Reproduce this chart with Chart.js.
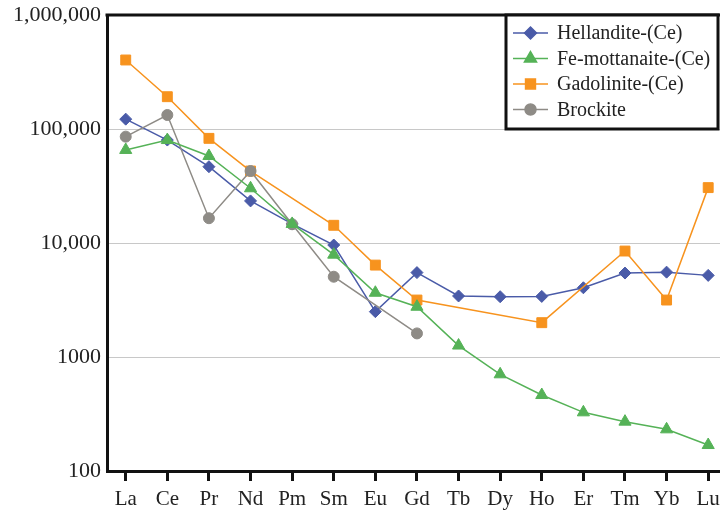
<!DOCTYPE html>
<html>
<head>
<meta charset="utf-8">
<script src="https://cdn.jsdelivr.net/npm/chart.js@4/dist/chart.umd.min.js"></script>
<style>
    html, body { margin: 0; padding: 0; background: #fff; overflow: hidden; }
    #wrap { width: 740px; height: 510px; }
</style>
</head>
<body>
<div id="wrap"><canvas id="reeChart"></canvas></div>
<script>
// REE patterns (chondrite-normalized)
const elements = ["La", "Ce", "Pr", "Nd", "Pm", "Sm", "Eu", "Gd", "Tb", "Dy", "Ho", "Er", "Tm", "Yb", "Lu"];

const hellandite = [122000, 80000, 46700, 23400, 14700, 9600, 2500, 5500, 3430, 3380, 3400, 4050, 5450, 5550, 5200];
const feMottanaite = [65500, 80000, 58000, 30200, 14700, 7900, 3660, 2760, 1260, 705, 464, 327, 271, 232, 169];
const gadolinite = [403000, 192000, 82800, 42800, null, 14300, 6400, 3160, null, null, 2000, null, 8500, 3160, 30600];
const brockite = [85700, 132700, 16500, 42800, 14600, 5060, null, 1610, null, null, null, null, null, null, null];

const seriesNames = ["Hellandite-(Ce)", "Fe-mottanaite-(Ce)", "Gadolinite-(Ce)", "Brockite"];
const yTickValues = [100, 1000, 10000, 100000, 1000000];
const yTickLabels = ["100", "1000", "10,000", "100,000", "1,000,000"];

const serif = "'Liberation Serif', 'Times New Roman', serif";

function toPoints(arr) {
    return arr.map((v, i) => ({ x: i, y: v }));
}

// top frame line + boxed legend
const framePlugin = {
    id: "frame",
    afterDraw(chart) {
        const ctx = chart.ctx;
        const area = chart.chartArea;
        ctx.save();
        ctx.strokeStyle = "#111";
        ctx.lineWidth = 3;
        ctx.beginPath();
        ctx.moveTo(area.left - 1.5, area.top);
        ctx.lineTo(chart.width, area.top);
        ctx.stroke();

        // legend box
        const bx = 506, by = area.top, bw = 212, bh = 114;
        ctx.fillStyle = "#fff";
        ctx.fillRect(bx, by, bw, bh);
        ctx.strokeRect(bx, by, bw, bh);

        ctx.font = "20px " + serif;
        ctx.textBaseline = "middle";
        chart.data.datasets.forEach((ds, i) => {
            const y = by + 18 + i * 25.5;
            ctx.strokeStyle = ds.borderColor;
            ctx.lineWidth = 1.5;
            ctx.beginPath();
            ctx.moveTo(513, y);
            ctx.lineTo(548, y);
            ctx.stroke();
            ctx.fillStyle = ds.pointBackgroundColor;
            ctx.strokeStyle = ds.borderColor;
            if (Chart.helpers && Chart.helpers.drawPoint) {
                Chart.helpers.drawPoint(ctx, {
                    pointStyle: ds.pointStyle,
                    radius: ds.pointRadius,
                    rotation: 0,
                    borderWidth: 1
                }, 530.5, y);
            } else {
                ctx.beginPath();
                ctx.arc(530.5, y, 5, 0, Math.PI * 2);
                ctx.fill();
            }
            ctx.fillStyle = "#222";
            ctx.fillText(ds.label, 557, y + 1);
        });
        ctx.restore();
    }
};

const colors = ["#4a5ba8", "#55b257", "#f7931e", "#8e8b86"];
const styles = ["rectRot", "triangle", "rect", "circle"];
const radii = [6, 7, 7, 5.5];
const orders = [4, 1, 3, 2];

const ctxRee = document.getElementById("reeChart").getContext("2d");
const reeChart = new Chart(ctxRee, {
    type: "line",
    data: {
        datasets: [hellandite, feMottanaite, gadolinite, brockite].map((arr, i) => ({
            label: seriesNames[i],
            data: toPoints(arr),
            borderColor: colors[i],
            backgroundColor: colors[i],
            pointBackgroundColor: colors[i],
            pointBorderColor: colors[i],
            pointStyle: styles[i],
            pointRadius: radii[i],
            pointBorderWidth: 1,
            borderWidth: 1.5,
            spanGaps: true,
            tension: 0,
            order: orders[i],
        })),
    },
    options: {
        responsive: true,
        maintainAspectRatio: false,
        animation: false,
        layout: {
            padding: { top: 15, right: 11, left: 0, bottom: 0 },
        },
        plugins: {
            legend: { display: false },
            tooltip: { enabled: false },
        },
        scales: {
            x: {
                type: "linear",
                min: -0.45,
                max: 14.5,
                afterBuildTicks: (scale) => {
                    scale.ticks = elements.map((_, i) => ({ value: i }));
                },
                afterFit: (scale) => {
                    scale.height = 39;
                    scale.paddingLeft = 0;
                    scale.paddingRight = 0;
                },
                ticks: {
                    autoSkip: false,
                    maxRotation: 0,
                    padding: 6,
                    color: "#222",
                    font: { family: serif, size: 21 },
                    callback: (value) => elements[value],
                },
                grid: {
                    drawOnChartArea: false,
                    drawTicks: true,
                    tickLength: 10,
                    tickColor: "#111",
                    tickWidth: 3,
                },
                border: { color: "#111", width: 3 },
            },
            y: {
                type: "logarithmic",
                min: 100,
                max: 1000000,
                afterBuildTicks: (scale) => {
                    scale.ticks = yTickValues.map((v) => ({ value: v }));
                },
                afterFit: (scale) => {
                    scale.width = 107;
                    scale.paddingTop = 0;
                    scale.paddingBottom = 0;
                },
                ticks: {
                    padding: 6,
                    color: "#222",
                    font: { family: serif, size: 22 },
                    callback: (value) => yTickLabels[yTickValues.indexOf(value)],
                },
                grid: {
                    color: "#c8c8c8",
                    lineWidth: 1,
                    drawTicks: false,
                },
                border: { color: "#111", width: 3 },
            },
        },
    },
    plugins: [framePlugin],
});
</script>
</body>
</html>
